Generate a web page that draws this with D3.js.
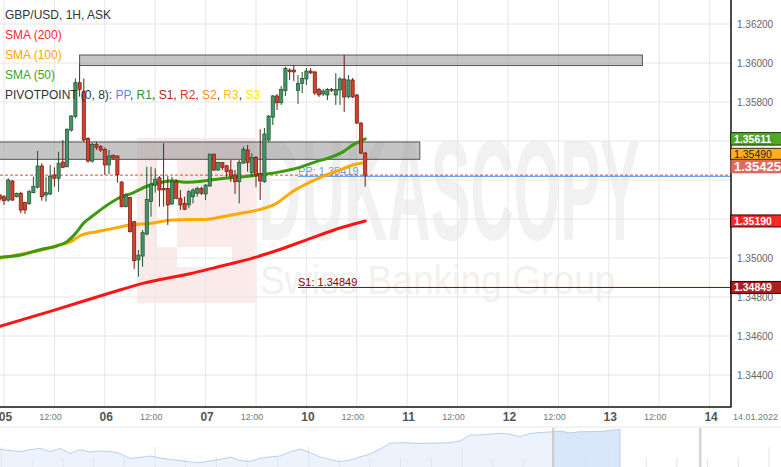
<!DOCTYPE html>
<html><head><meta charset="utf-8">
<script src="https://cdn.jsdelivr.net/npm/d3@7"></script>
<style>html,body{margin:0;padding:0;background:#fff;overflow:hidden}svg{display:block;font-family:"Liberation Sans",Arial,sans-serif}</style>
</head><body><svg id="c" width="781" height="467"></svg>
<script>
// ---------------- DATA ----------------
const symbolTitle = "GBP/USD, 1H, ASK";
const dayLabels = ["05","06","07","10","11","12","13","14"];
const halfDayLabel = "12:00";
const dateStamp = "14.01.2022";
const priceTicks = [1.344,1.346,1.348,1.350,1.352,1.354,1.356,1.358,1.360,1.362];
const firstSlot = -1; // hourly slots, slot 0 = 05 Jan 00:00
const candleOpen = [
1.35323,1.35314,1.35297,1.35395,1.35314,1.35332,1.35284,1.35280,1.35335,1.35363,
1.35472,1.35323,1.35328,1.35426,1.35409,1.35492,1.35468,1.35656,1.35725,1.35899,
1.35853,1.35614,1.35497,1.35583,1.35571,1.35557,1.35477,1.35527,1.35523,1.35390,
1.35263,1.35311,1.35186,1.34990,1.35010,1.35123,1.35289,1.35374,1.35411,1.35357,
1.35357,1.35277,1.35391,1.35306,1.35280,1.35272,1.35314,1.35332,1.35357,1.35328,
1.35369,1.35532,1.35451,1.35489,1.35473,1.35451,1.35426,1.35391,1.35486,1.35554,
1.35437,1.35516,1.35434,1.35391,1.35605,1.35722,1.35831,1.35796,1.35858,1.35964,
1.35964,1.35859,1.35896,1.35918,1.35959,1.35954,1.35865,1.35841,1.35836,1.35865,
1.35836,1.35861,1.35918,1.35826,1.35913,1.35836,1.35692,1.35538];
const candleHigh = [
1.35328,1.35323,1.35409,1.35400,1.35335,1.35340,1.35289,1.35349,1.35417,1.35550,
1.35486,1.35417,1.35477,1.35465,1.35545,1.35605,1.35665,1.35733,1.35921,1.35990,
1.35921,1.35619,1.35591,1.35596,1.35579,1.35566,1.35554,1.35530,1.35527,1.35392,
1.35332,1.35314,1.35191,1.35041,1.35144,1.35468,1.35468,1.35460,1.35420,1.35588,
1.35420,1.35417,1.35404,1.35349,1.35314,1.35349,1.35357,1.35366,1.35366,1.35379,
1.35533,1.35537,1.35494,1.35492,1.35477,1.35503,1.35451,1.35503,1.35571,1.35579,
1.35537,1.35523,1.35660,1.35667,1.35733,1.35836,1.35841,1.35882,1.35981,1.35973,
1.35990,1.35938,1.35954,1.35974,1.35974,1.35959,1.35872,1.35867,1.35872,1.35872,
1.35947,1.35928,1.36041,1.35938,1.35923,1.35841,1.35697,1.35544];
const candleLow = [
1.35289,1.35272,1.35289,1.35294,1.35311,1.35229,1.35226,1.35272,1.35332,1.35357,
1.35294,1.35289,1.35323,1.35366,1.35340,1.35460,1.35465,1.35648,1.35716,1.35827,
1.35596,1.35489,1.35489,1.35554,1.35545,1.35426,1.35429,1.35503,1.35386,1.35260,
1.35260,1.35130,1.34944,1.34904,1.34955,1.35116,1.35212,1.35335,1.35263,1.35263,
1.35169,1.35272,1.35301,1.35246,1.35246,1.35255,1.35280,1.35314,1.35323,1.35297,
1.35366,1.35446,1.35448,1.35451,1.35417,1.35391,1.35328,1.35280,1.35486,1.35443,
1.35417,1.35363,1.35297,1.35386,1.35595,1.35682,1.35759,1.35785,1.35831,1.35913,
1.35908,1.35790,1.35846,1.35887,1.35944,1.35836,1.35826,1.35831,1.35810,1.35851,
1.35785,1.35785,1.35749,1.35820,1.35820,1.35687,1.35533,1.35366];
const candleClose = [
1.35302,1.35294,1.35400,1.35297,1.35332,1.35246,1.35246,1.35340,1.35366,1.35472,
1.35314,1.35335,1.35420,1.35409,1.35486,1.35465,1.35660,1.35728,1.35899,1.35865,
1.35605,1.35497,1.35583,1.35568,1.35554,1.35477,1.35523,1.35514,1.35426,1.35263,
1.35323,1.35135,1.34986,1.35015,1.35130,1.35301,1.35379,1.35404,1.35349,1.35349,
1.35272,1.35391,1.35306,1.35272,1.35250,1.35340,1.35349,1.35357,1.35332,1.35374,
1.35533,1.35451,1.35489,1.35465,1.35443,1.35420,1.35391,1.35489,1.35557,1.35489,
1.35516,1.35426,1.35395,1.35636,1.35728,1.35831,1.35796,1.35865,1.35973,1.35955,
1.35954,1.35896,1.35921,1.35959,1.35949,1.35846,1.35836,1.35856,1.35865,1.35861,
1.35865,1.35918,1.35826,1.35913,1.35826,1.35692,1.35538,1.35425];
// moving averages: [slot, value]
const sma50 = [[-1,1.35004],[4,1.35015],[9,1.35045],[12,1.35058],[15,1.35084],[17,1.35125],[19,1.35180],[21,1.35214],[24,1.35263],[27,1.35304],[31,1.35337],[34,1.35368],[37,1.35386],[40,1.35396],[43,1.35388],[48,1.35396],[52,1.35408],[57,1.35417],[62,1.35429],[66,1.35443],[70,1.35462],[74,1.35492],[78,1.35518],[81,1.35548],[83,1.35579],[85,1.35600],[86,1.35611]];
const sma100 = [[-1,1.34998],[4,1.35020],[9,1.35041],[13,1.35067],[16,1.35084],[18,1.35113],[22,1.35135],[26,1.35152],[30,1.35169],[35,1.35178],[40,1.35195],[44,1.35198],[48,1.35198],[52,1.35212],[57,1.35232],[62,1.35255],[65,1.35282],[67,1.35314],[69,1.35345],[72,1.35380],[76,1.35420],[80,1.35452],[83,1.35477],[86,1.35490]];
const sma200 = [[-1,1.34650],[12,1.34733],[25,1.34819],[33,1.34870],[44,1.34918],[51,1.34955],[59,1.34998],[66,1.35046],[73,1.35101],[81,1.35160],[86,1.35190]];
// grey zones
const zoneStart = [18, -6];
const zoneEnd = [152, 99];
const zoneTop = [1.36041, 1.35595];
const zoneBottom = [1.35987, 1.35506];
// pivot points
const pivotStart = 70;
const pivotPP = 1.35419;
const pivotS1 = 1.34849;
const lastPrice = 1.35425;
// navigator overview
const navValues = [1.3377,1.3365,1.3353,1.3373,1.3385,1.3353,1.3385,1.3335,1.3372,1.3350,
1.3360,1.3355,1.3335,1.3285,1.3297,1.3310,1.3290,1.3275,1.3265,1.3250,
1.3243,1.3260,1.3275,1.3300,1.3265,1.3255,1.3287,1.3300,1.3310,1.3350,
1.3380,1.3345,1.3300,1.3275,1.3253,1.3270,1.3300,1.3330,1.3377,1.3437,
1.3443,1.3440,1.3435,1.3437,1.3440,1.3443,1.3460,1.3520,1.3520,1.3530,
1.3537,1.3527,1.3503,1.3535,1.3545,1.3550,1.3560,1.3540,1.3553,1.3553,
1.3555,1.3565,1.3577];
const navWindow = [55.3, 70];

// ---------------- DRAW ----------------
const W = 781, H = 467, PW = 731, PH = 407;
const svg = d3.select("#c");
const x = d3.scaleLinear().domain([0,168]).range([4,709.6]);
const y = d3.scaleLinear().domain([1.344,1.362]).range([375,24]);
const fmt = d3.format(".5f");

svg.append("rect").attr("width",W).attr("height",H).attr("fill","#fff");
const defs = svg.append("defs");
defs.append("clipPath").attr("id","plot").append("rect").attr("width",PW).attr("height",PH);
const plot = svg.append("g").attr("clip-path","url(#plot)");

// watermark
const wm = plot.append("g");
wm.append("rect").attr("x",137).attr("y",138).attr("width",118).attr("height",165).attr("fill","#fbeaea");
wm.append("rect").attr("x",157).attr("y",160).attr("width",20).attr("height",87).attr("fill","#fff");
wm.append("rect").attr("x",177).attr("y",247).attr("width",55).attr("height",20).attr("fill","#fff");
wm.append("text").attr("transform","translate(258,240) scale(0.421,1)").attr("font-size",142).attr("font-weight","bold")
  .attr("fill","#f1f1f1").text("DUKASCOPY");
wm.append("text").attr("transform","translate(260,294) scale(0.93,1)").attr("font-size",40)
  .attr("fill","#f1f1f1").text("Swiss Banking Group");

// grid
const gridSlots = d3.range(0,169,12);
plot.selectAll(".vg").data(gridSlots).join("line")
  .attr("x1",d=>x(d)).attr("x2",d=>x(d)).attr("y1",0).attr("y2",PH)
  .attr("stroke","#e6e6e6").attr("stroke-width",1);
plot.selectAll(".hg").data(priceTicks).join("line")
  .attr("x1",0).attr("x2",PW).attr("y1",d=>y(d)).attr("y2",d=>y(d))
  .attr("stroke","#e6e6e6").attr("stroke-width",1);

// zones
plot.selectAll(".zone").data(d3.range(zoneStart.length)).join("rect")
  .attr("x",i=>x(zoneStart[i])).attr("width",i=>x(zoneEnd[i])-x(zoneStart[i]))
  .attr("y",i=>y(zoneTop[i])).attr("height",i=>y(zoneBottom[i])-y(zoneTop[i]))
  .attr("fill","rgba(150,150,150,0.55)").attr("stroke","#555").attr("stroke-width",1);

// pivot lines
plot.append("line").attr("x1",x(pivotStart)).attr("x2",PW).attr("y1",y(pivotPP)).attr("y2",y(pivotPP))
  .attr("stroke","#4a8fe6").attr("stroke-width",1);
plot.append("text").attr("x",x(pivotStart)).attr("y",y(pivotPP)-1).attr("font-size",11)
  .attr("fill","#4a8fe6").attr("fill-opacity",0.85).text("PP: "+fmt(pivotPP));
plot.append("line").attr("x1",x(pivotStart)).attr("x2",PW).attr("y1",y(pivotS1)).attr("y2",y(pivotS1))
  .attr("stroke","#8b0000").attr("stroke-width",1);
plot.append("text").attr("x",x(pivotStart)).attr("y",y(pivotS1)-1.5).attr("font-size",11)
  .attr("fill","#8b0000").text("S1: "+fmt(pivotS1));

// last price dashed line
plot.append("line").attr("x1",0).attr("x2",PW).attr("y1",y(lastPrice)).attr("y2",y(lastPrice))
  .attr("stroke","#e04a3a").attr("stroke-width",1).attr("stroke-dasharray","3,2");

// SMAs
const line = d3.line().x(d=>x(d[0])).y(d=>y(d[1])).curve(d3.curveMonotoneX);
[[sma200,"#ff1414"],[sma100,"#ffaa00"],[sma50,"#3c9a10"]].forEach(([d,c])=>{
  plot.append("path").datum(d).attr("d",line).attr("fill","none").attr("stroke",c)
    .attr("stroke-width",3).attr("stroke-linejoin","round").attr("stroke-linecap","round");
});

// candles
const candles = candleOpen.map((o,i)=>({s:firstSlot+i,o,h:candleHigh[i],l:candleLow[i],c:candleClose[i]}));
const cg = plot.append("g");
const up = d=>d.c>=d.o;
cg.selectAll(".wick").data(candles).join("line")
  .attr("x1",d=>x(d.s)).attr("x2",d=>x(d.s)).attr("y1",d=>y(d.h)).attr("y2",d=>y(d.l))
  .attr("stroke",d=>up(d)?"#1d5230":"#6e1c10").attr("stroke-width",1);
cg.selectAll(".body").data(candles).join("rect")
  .attr("x",d=>x(d.s)-1.6).attr("width",3.2)
  .attr("y",d=>y(Math.max(d.o,d.c))).attr("height",d=>Math.max(1,Math.abs(y(d.o)-y(d.c))))
  .attr("fill",d=>up(d)?"#469466":"#d3402b").attr("stroke",d=>up(d)?"#1d5230":"#6e1c10").attr("stroke-width",0.7);

// borders
svg.append("line").attr("x1",0).attr("x2",PW+0.5).attr("y1",PH).attr("y2",PH).attr("stroke","#111").attr("stroke-width",1.5);
svg.append("line").attr("x1",PW).attr("x2",PW).attr("y1",0).attr("y2",PH).attr("stroke","#111").attr("stroke-width",1.5);

// legend
const lg = svg.append("g").attr("font-size",12);
lg.append("text").attr("x",5).attr("y",19).attr("fill","#333").text(symbolTitle);
lg.append("text").attr("x",5).attr("y",39).attr("fill","#ff2a2a").text("SMA (200)");
lg.append("text").attr("x",5).attr("y",59).attr("fill","#ffa500").text("SMA (100)");
lg.append("text").attr("x",5).attr("y",79).attr("fill","#3f9f1f").text("SMA (50)");
const pv = lg.append("text").attr("x",5).attr("y",99).attr("fill","#333");
const pvItems = [["PP","#4a8ff0"],["R1","#3a8a3a"],["S1","#b22222"],["R2","#e8332f"],["S2","#ff8a1c"],["R3","#ffc21a"],["S3","#ffe800"]];
pv.append("tspan").text("PIVOTPOINT (0, 8): ");
pvItems.forEach(([t,c],i)=>{
  pv.append("tspan").attr("fill",c).text(t);
  if(i<pvItems.length-1) pv.append("tspan").attr("fill","#333").text(", ");
});

// right axis tick labels
const yTicks = priceTicks.filter(t=>Math.abs(y(t)-y(lastPrice))>8);
svg.selectAll(".yt").data(yTicks).join("text")
  .attr("x",737).attr("y",d=>y(d)).attr("dy","0.35em").attr("font-size",10)
  .attr("fill","#666").text(d=>fmt(d));

// right value labels
const lastOf = a=>a[a.length-1][1];
const lbls = [
  {v:lastPrice,fill:"#d9564a",stroke:"none",tc:"#fff",fs:13,fw:"bold",h:14,anchorBottom:true},
  {v:lastOf(sma100),fill:"#ffa500",stroke:"#3a2a00",tc:"#222",fs:10.5,fw:"normal",h:11},
  {v:lastOf(sma50),fill:"#3d9a0e",stroke:"#1a3a08",tc:"#fff",fs:10.5,fw:"bold",h:12.5},
  {v:lastOf(sma200),fill:"#ff0a0a",stroke:"#3a0000",tc:"#fff",fs:10.5,fw:"bold",h:12},
  {v:pivotS1,fill:"#a30000",stroke:"#2a0000",tc:"#fff",fs:10.5,fw:"bold",h:12}
];
lbls.forEach(l=>{ l.top = l.anchorBottom ? y(l.v)-1.8-l.h : y(l.v)-l.h/2; });
const ordered = lbls.slice().sort((a,b)=>b.top-a.top);
for(let i=1;i<ordered.length;i++){
  const below = ordered[i-1], cur = ordered[i];
  if(cur.top+cur.h > below.top) cur.top = below.top-cur.h;
}
const lgG = svg.append("g");
lbls.forEach(l=>{
  lgG.append("rect").attr("x",730.5).attr("y",l.top).attr("width",52).attr("height",l.h)
    .attr("fill",l.fill).attr("fill-opacity",0.88).attr("stroke",l.stroke).attr("stroke-width",1);
  lgG.append("text").attr("x",734).attr("y",l.top+l.h/2).attr("dy","0.36em")
    .attr("font-size",l.fs).attr("font-weight",l.fw).attr("fill",l.tc).text(fmt(l.v));
});

// x axis labels
const xl = svg.append("g");
dayLabels.forEach((t,i)=>{
  xl.append("text").attr("x",x(i*24)+1.5).attr("y",416.5).attr("dy","0.35em").attr("text-anchor","middle")
    .attr("font-size",12).attr("font-weight","bold").attr("fill","#555").text(t);
  if(i<dayLabels.length-1)
    xl.append("text").attr("x",x(i*24+12)-4).attr("y",416.5).attr("dy","0.35em").attr("text-anchor","middle")
      .attr("font-size",9).attr("fill","#777").text(halfDayLabel);
});
xl.append("text").attr("x",733).attr("y",416.5).attr("dy","0.35em").attr("font-size",9).attr("fill","#777").text(dateStamp);

// navigator
svg.append("line").attr("x1",0).attr("x2",W).attr("y1",427).attr("y2",427).attr("stroke","#e6e6e6");
const nx = d3.scaleLinear().domain([0,62]).range([0,620]);
const ny = d3.scaleLinear().domain([1.32,1.36]).range([467,427]);
const navTicks = d3.range(0,26);
svg.selectAll(".nt").data(navTicks).join("line")
  .attr("x1",d=>1.5+d*30.7).attr("x2",d=>1.5+d*30.7)
  .attr("y1",d=>d%5===0?447:458).attr("y2",467).attr("stroke","#e2e2e2");
const area = d3.area().x((d,i)=>nx(i)).y0(467).y1(d=>ny(d));
svg.append("path").datum(navValues).attr("d",area).attr("fill","#dfeafb").attr("fill-opacity",0.55);
const wStart = navWindow[0];
svg.append("path").datum(navValues.map((v,i)=>[i,v]).filter(d=>d[0]>=Math.floor(wStart)))
  .attr("d",d3.area().x(d=>nx(Math.max(d[0],wStart))).y0(467).y1(d=>ny(d[1])))
  .attr("fill","#d4e3fa").attr("fill-opacity",0.8);
svg.append("path").datum(navValues).attr("d",d3.line().x((d,i)=>nx(i)).y(d=>ny(d)))
  .attr("fill","none").attr("stroke","#b7cff4").attr("stroke-width",1);
svg.append("line").attr("x1",nx(62)).attr("x2",nx(62)).attr("y1",ny(navValues[62])).attr("y2",467).attr("stroke","#b7cff4");
navWindow.forEach(v=>{
  svg.append("line").attr("x1",nx(v)).attr("x2",nx(v)).attr("y1",428).attr("y2",467).attr("stroke","#a8a8a8").attr("stroke-width",1);
  svg.append("line").attr("x1",nx(v)+1.2).attr("x2",nx(v)+1.2).attr("y1",428).attr("y2",467).attr("stroke","#dcdcdc").attr("stroke-width",1);
});
</script></body></html>
